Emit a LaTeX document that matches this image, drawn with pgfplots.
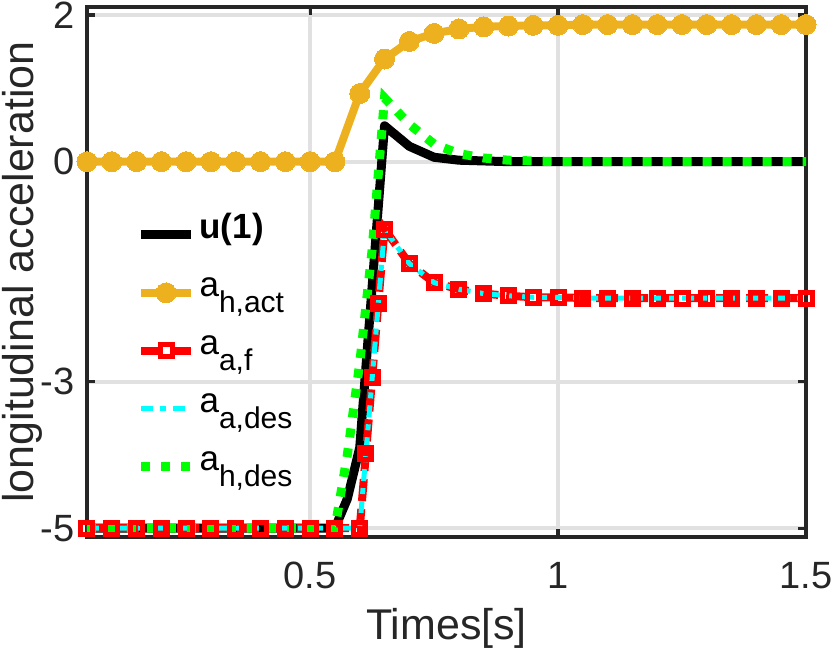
\documentclass[border=0pt]{standalone}
\usepackage{fontspec}
\setmainfont{Liberation Sans}
\usepackage{pgfplots}
\pgfplotsset{compat=1.18}
\definecolor{morange}{RGB}{237,177,32}
\definecolor{mred}{RGB}{255,0,0}
\definecolor{mcyan}{RGB}{0,255,255}
\definecolor{mgreen}{RGB}{0,255,0}
\definecolor{gridgray}{RGB}{225,225,225}
\definecolor{axgray}{RGB}{38,38,38}
\newcommand{\sub}[1]{\raisebox{-8pt}{\fontsize{15}{15}\selectfont #1}}

\begin{document}
\begin{tikzpicture}
\begin{axis}[
    name=ax, at={(0,0)}, anchor=south west,
    scale only axis, width=359.5pt, height=265pt,
    xmin=0.05, xmax=1.5, ymin=-5.12, ymax=2.11,
    xtick={0.5,1,1.5}, xticklabels={0.5,1,1.5},
    ytick={-5,-3,0,2}, yticklabels={-5,-3,0,2},
    grid=major, major grid style={gridgray, line width=2pt},
    axis line style={axgray, line width=1.6pt},
    tick align=inside, major tick length=4pt,
    tick style={axgray, line width=1.6pt},
    ticklabel style={font=\fontsize{19}{22}\selectfont, text=axgray},
    xticklabel style={anchor=base, yshift=-25.5pt},
    yticklabel style={anchor=east, inner sep=0pt, xshift=-6pt},
    xlabel={Times[s]}, ylabel={longitudinal acceleration},
    label style={font=\fontsize{21.5}{24}\selectfont, text=axgray},
    xlabel style={at={(axis description cs:0.5,-0.194)}, anchor=base},
    ylabel style={at={(axis description cs:-0.0904,0.5)}, anchor=center},
    clip=false,
    legend style={at={(0.06,0.62)}, anchor=north west, draw=none, fill=none,
        font=\fontsize{17.5}{20}\selectfont, row sep=7pt,
        nodes={text height=13pt, text depth=9pt, inner ysep=0pt}},
    legend cell align=left,
    legend image code/.code={\draw[mark repeat=2,mark phase=2,#1]
        plot coordinates {(0pt,0pt) (12.5pt,0pt) (25pt,0pt)};},
]
% u(1)
\addplot[black, line width=4.5pt, line join=round] table {
x y
0.05 -5
0.1 -5
0.15 -5
0.2 -5
0.25 -5
0.3 -5
0.35 -5
0.4 -5
0.45 -5
0.5 -5
0.55 -5
0.575 -4.6
0.6 -3.9
0.65 0.49
0.7 0.21
0.75 0.06
0.8 0.02
0.85 0.01
0.9 0
0.95 0
1.0 0
1.5 0
};
\addlegendentry{\textbf{u(1)}}
% a_h,act
\addplot[morange, line width=4pt, mark=*, mark size=5pt,
    mark options={fill=morange, draw=morange, line width=0pt}] table {
x y
0.05 0
0.1 0
0.15 0
0.2 0
0.25 0
0.3 0
0.35 0
0.4 0
0.45 0
0.5 0
0.55 0
0.6 0.93
0.65 1.40
0.7 1.64
0.75 1.75
0.8 1.81
0.85 1.84
0.9 1.85
0.95 1.86
1.0 1.86
1.05 1.87
1.1 1.87
1.15 1.87
1.2 1.87
1.25 1.87
1.3 1.87
1.35 1.87
1.4 1.87
1.45 1.87
1.5 1.87
};
\addlegendentry{a\sub{h,act}}
% a_a,f
\addplot[mred, line width=4pt, dash pattern=on 11pt off 4pt,
    mark=square, mark size=3pt, mark options={solid, line width=2.5pt}] table {
x y
0.05 -5
0.1 -5
0.15 -5
0.2 -5
0.25 -5
0.3 -5
0.35 -5
0.4 -5
0.45 -5
0.5 -5
0.55 -5
0.6 -5
0.6125 -3.98
0.625 -2.95
0.6375 -1.93
0.65 -0.92
0.7 -1.39
0.75 -1.65
0.8 -1.74
0.85 -1.80
0.9 -1.83
0.95 -1.85
1.0 -1.85
1.05 -1.86
1.1 -1.86
1.15 -1.86
1.2 -1.86
1.25 -1.86
1.3 -1.86
1.35 -1.86
1.4 -1.86
1.45 -1.86
1.5 -1.86
};
\addlegendentry{a\sub{a,f}}
% a_a,des
\addplot[mcyan, line width=2.5pt, dash pattern=on 6pt off 3.5pt on 3pt off 3.5pt] table {
x y
0.05 -5
0.6 -5
0.65 -0.92
0.7 -1.39
0.75 -1.65
0.8 -1.74
0.85 -1.80
0.9 -1.83
0.95 -1.85
1.0 -1.85
1.05 -1.86
1.5 -1.86
};
\addlegendentry{a\sub{a,des}}
% a_h,des
\addplot[mgreen, line width=4.5pt, dash pattern=on 4.5pt off 5.5pt] table {
x y
0.05 -5
0.55 -5
0.575 -4.0
0.6 -2.75
0.625 -1.2
0.65 0.87
0.7 0.51
0.75 0.24
0.8 0.11
0.85 0.05
0.9 0.02
0.95 0.01
1.0 0
1.5 0
};
\addlegendentry{a\sub{h,des}}
\end{axis}
\pgfresetboundingbox
\path (ax.south west) ++(-43.5pt,-56pt) rectangle ([xshift=12.5pt,yshift=3.5pt]ax.north east);
\end{tikzpicture}
\end{document}
